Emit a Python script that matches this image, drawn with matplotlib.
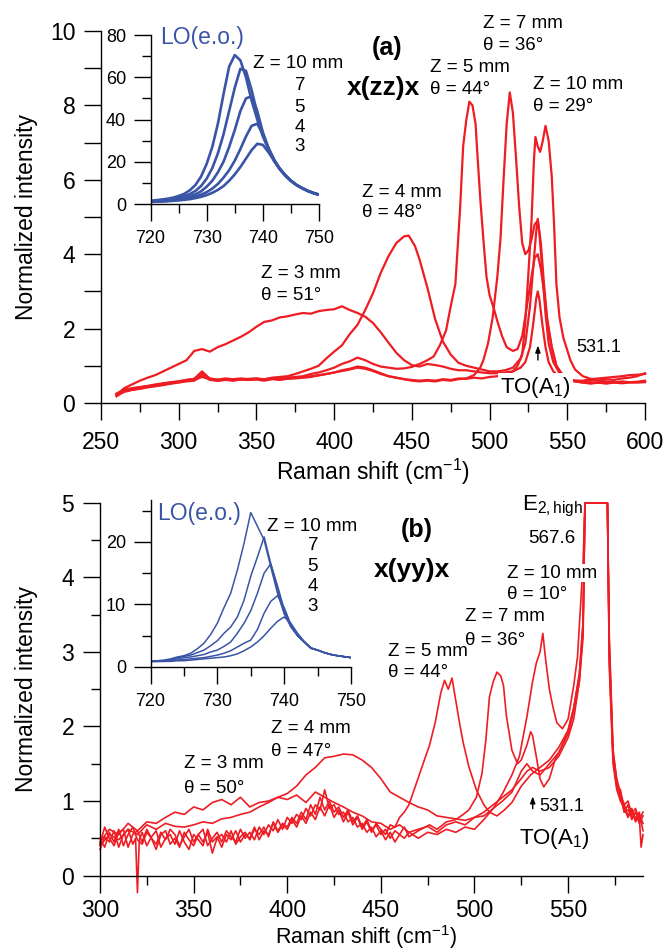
import numpy as np
import matplotlib
matplotlib.use("Agg")
import matplotlib.pyplot as plt
from matplotlib.ticker import FixedLocator, FuncFormatter

plt.rcParams['font.family'] = ['Liberation Sans', 'DejaVu Sans']
plt.rcParams['mathtext.fontset'] = 'custom'
plt.rcParams['mathtext.rm'] = 'Liberation Sans'
plt.rcParams['mathtext.it'] = 'Liberation Sans:italic'
plt.rcParams['mathtext.bf'] = 'Liberation Sans:bold'

RED = '#ee1d24'
BLUE = '#3a55a5'

# ---- (a) x(zz)x spectra -------------------------------------------------
zz3_x = [260, 265, 270, 275, 280, 285, 290, 295, 300, 305, 310, 315, 320, 325, 330, 335, 340, 345,
         350, 355, 360, 365, 370, 375, 380, 385, 390, 395, 400, 405, 410, 415, 420, 425, 430, 435,
         440, 445, 450, 455, 460, 465, 470, 475, 480, 485, 490, 495, 500, 505, 510, 515, 520, 523,
         526, 528, 530, 531, 532, 534, 536, 538, 541, 545, 550, 555, 560, 565, 570, 575, 580, 585,
         590, 595, 600]
zz3_y = [0.22, 0.40, 0.50, 0.60, 0.68, 0.75, 0.85, 0.95, 1.05, 1.15, 1.40, 1.45, 1.38, 1.50, 1.58,
         1.68, 1.78, 1.90, 2.05, 2.18, 2.22, 2.30, 2.33, 2.38, 2.42, 2.40, 2.47, 2.50, 2.52, 2.60,
         2.50, 2.42, 2.32, 2.15, 1.90, 1.62, 1.35, 1.15, 1.02, 0.98, 1.05, 1.02, 0.98, 0.92, 0.88,
         0.88, 0.85, 0.82, 0.80, 0.80, 0.82, 0.85, 0.95, 1.10, 1.50, 2.10, 2.80, 3.00, 2.80, 2.10,
         1.50, 1.10, 0.85, 0.70, 0.62, 0.58, 0.55, 0.56, 0.54, 0.56, 0.55, 0.58, 0.56, 0.57, 0.60]

zz4_x = [260, 265, 270, 275, 280, 285, 290, 295, 300, 305, 310, 315, 320, 325, 330, 335, 340, 345,
         350, 355, 360, 365, 370, 375, 380, 385, 390, 395, 400, 405, 410, 415, 420, 425, 430, 435,
         440, 445, 448, 452, 455, 460, 465, 470, 475, 480, 485, 490, 495, 500, 505, 510, 515, 520,
         523, 526, 528, 530, 531, 532, 534, 536, 538, 541, 545, 550, 555, 560, 565, 570, 575, 580,
         585, 590, 595, 600]
zz4_y = [0.25, 0.35, 0.38, 0.42, 0.45, 0.48, 0.52, 0.55, 0.58, 0.62, 0.65, 0.85, 0.65, 0.62, 0.62,
         0.64, 0.63, 0.65, 0.66, 0.64, 0.68, 0.70, 0.72, 0.78, 0.85, 0.92, 1.00, 1.20, 1.38, 1.55,
         1.85, 2.10, 2.50, 2.95, 3.50, 3.95, 4.30, 4.48, 4.50, 4.22, 3.85, 3.10, 2.25, 1.65, 1.30,
         1.08, 1.00, 0.95, 0.90, 0.85, 0.85, 0.88, 0.95, 1.20, 1.60, 2.60, 3.60, 4.60, 4.95, 4.60,
         3.50, 2.40, 1.60, 1.10, 0.80, 0.65, 0.58, 0.55, 0.52, 0.55, 0.52, 0.55, 0.53, 0.55, 0.56,
         0.58]

zz5_x = [260, 265, 270, 275, 280, 285, 290, 295, 300, 305, 310, 315, 320, 325, 330, 335, 340, 345,
         350, 355, 360, 365, 370, 375, 380, 385, 390, 395, 400, 405, 410, 415, 420, 425, 430, 435,
         440, 445, 450, 455, 460, 464, 468, 472, 475, 478, 481, 483, 485, 487, 489, 491, 492, 494,
         496, 498, 500, 503, 505, 508, 511, 515, 518, 521, 524, 527, 529, 531, 533, 535, 537, 540,
         543, 547, 550, 555, 560, 565, 570, 575, 580, 585, 590, 595, 600]
zz5_y = [0.20, 0.30, 0.35, 0.38, 0.42, 0.45, 0.48, 0.52, 0.55, 0.58, 0.60, 0.75, 0.62, 0.60, 0.62,
         0.60, 0.63, 0.62, 0.65, 0.62, 0.66, 0.65, 0.68, 0.70, 0.72, 0.78, 0.82, 0.88, 0.95, 1.05,
         1.12, 1.22, 1.15, 1.05, 0.98, 0.95, 0.92, 0.93, 0.97, 1.05, 1.15, 1.25, 1.55, 1.95, 2.60,
         3.20, 5.20, 6.90, 7.60, 8.10, 8.00, 7.50, 6.80, 5.50, 4.40, 3.40, 2.90, 2.50, 2.20, 1.80,
         1.50, 1.40, 1.45, 1.80, 2.60, 3.40, 3.90, 4.00, 3.60, 3.00, 2.20, 1.50, 1.00, 0.75, 0.65,
         0.60, 0.60, 0.64, 0.66, 0.68, 0.70, 0.72, 0.75, 0.76, 0.78]

zz7_x = [260, 265, 270, 275, 280, 285, 290, 295, 300, 305, 310, 315, 320, 325, 330, 335, 340, 345,
         350, 355, 360, 365, 370, 375, 380, 385, 390, 395, 400, 405, 410, 415, 420, 425, 430, 435,
         440, 445, 450, 455, 460, 465, 470, 475, 480, 485, 490, 494, 496, 499, 502, 505, 507, 509,
         511, 513, 515, 517, 519, 521, 523, 525, 527, 529, 531, 533, 535, 537, 540, 543, 547, 550,
         555, 560, 565, 570, 575, 580, 585, 590, 595, 600]
zz7_y = [0.18, 0.32, 0.36, 0.40, 0.44, 0.46, 0.50, 0.53, 0.56, 0.60, 0.62, 0.70, 0.64, 0.60, 0.63,
         0.61, 0.64, 0.62, 0.63, 0.60, 0.64, 0.62, 0.65, 0.66, 0.68, 0.70, 0.74, 0.78, 0.82, 0.88,
         0.92, 0.98, 0.95, 0.88, 0.80, 0.72, 0.68, 0.64, 0.60, 0.58, 0.60, 0.58, 0.62, 0.60, 0.64,
         0.66, 0.75, 0.95, 1.15, 1.60, 2.30, 3.40, 4.40, 6.00, 7.50, 8.35, 7.80, 6.60, 5.30, 4.30,
         4.00, 4.10, 4.40, 4.80, 4.90, 4.30, 3.20, 2.30, 1.50, 1.00, 0.75, 0.65, 0.60, 0.58, 0.62,
         0.60, 0.64, 0.62, 0.66, 0.68, 0.72, 0.80]

zz10_x = [260, 265, 270, 275, 280, 285, 290, 295, 300, 305, 310, 315, 320, 325, 330, 335, 340, 345,
          350, 355, 360, 365, 370, 375, 380, 385, 390, 395, 400, 405, 410, 415, 420, 425, 430, 435,
          440, 445, 450, 455, 460, 465, 470, 475, 480, 485, 490, 495, 500, 505, 510, 515, 518, 521,
          523, 525, 527, 528.5, 529.5, 531, 532.5, 534, 536, 538, 540, 541.5, 543, 545, 547.5, 552,
          555, 560, 565, 570, 575, 580, 585, 590, 595, 600]
zz10_y = [0.25, 0.36, 0.40, 0.43, 0.46, 0.50, 0.53, 0.56, 0.58, 0.62, 0.64, 0.80, 0.66, 0.63, 0.66,
          0.64, 0.66, 0.64, 0.65, 0.63, 0.66, 0.64, 0.66, 0.68, 0.70, 0.72, 0.75, 0.78, 0.82, 0.86,
          0.90, 0.95, 0.92, 0.86, 0.78, 0.72, 0.68, 0.64, 0.62, 0.60, 0.62, 0.60, 0.64, 0.62, 0.66,
          0.65, 0.68, 0.66, 0.70, 0.72, 0.76, 0.85, 1.00, 1.30, 2.20, 3.50, 4.90, 6.50, 7.15, 6.90,
          6.75, 7.00, 7.45, 7.05, 6.10, 4.80, 3.20, 2.30, 1.75, 1.15, 0.90, 0.72, 0.65, 0.60, 0.58,
          0.56, 0.55, 0.56, 0.55, 0.56]

# LO(e.o.) band, inset of (a)
lo_x = [720, 721, 722, 723, 724, 725, 726, 727, 728, 729, 730, 731, 732, 733, 734, 735, 736, 737,
        738, 739, 740, 741, 742, 743, 744, 745, 746, 747, 748, 749, 750]
lo_zz10 = [1.5, 1.8, 2.1, 2.5, 3.0, 3.8, 4.8, 6.5, 9.0, 13, 19, 27, 38, 52, 65, 70.5, 68, 60, 49,
           40, 32, 26, 20.5, 16.5, 13.5, 11, 9, 7.5, 6.2, 5.2, 4.4]
lo_zz7 = [1.3, 1.5, 1.8, 2.1, 2.5, 3.0, 3.7, 4.7, 6.2, 8.5, 12, 17, 24, 33, 44, 55, 64, 63, 54,
          43, 33, 26, 20.5, 16.5, 13.5, 11, 9, 7.5, 6.2, 5.2, 4.4]
lo_zz5 = [1.2, 1.3, 1.5, 1.7, 2.0, 2.4, 2.9, 3.6, 4.6, 6.0, 8.2, 11, 15, 20, 27, 35, 44, 50, 51,
          44, 34, 26.5, 21, 16.7, 13.6, 11, 9, 7.5, 6.2, 5.2, 4.4]
lo_zz4 = [1.1, 1.2, 1.3, 1.5, 1.7, 2.0, 2.4, 2.9, 3.5, 4.4, 5.6, 7.3, 9.5, 12.5, 16, 20.5, 26, 32,
          37, 38, 33, 26.5, 21, 16.8, 13.6, 11, 9, 7.5, 6.2, 5.2, 4.4]
lo_zz3 = [1.0, 1.1, 1.2, 1.3, 1.5, 1.7, 2.0, 2.3, 2.8, 3.4, 4.2, 5.3, 6.7, 8.5, 11, 14, 17.5, 21.5,
          25.5, 28.5, 28, 24.5, 20.5, 16.8, 13.6, 11, 9, 7.5, 6.2, 5.2, 4.4]

# ---- (b) x(yy)x spectra -------------------------------------------------
yy3_x = [300, 305, 310, 315, 320, 325, 330, 335, 340, 345, 350, 355, 360, 365, 370, 375, 380, 385,
         390, 395, 400, 405, 410, 415, 420, 425, 430, 435, 440, 445, 450, 455, 460, 465, 470, 475,
         480, 485, 490, 495, 500, 505, 510, 515, 520, 525, 528, 531, 535, 540, 545, 550, 553, 556,
         558, 559, 571, 572, 574, 576, 578, 580, 582, 584, 586, 588, 590]
yy3_y = [0.45, 0.62, 0.55, 0.70, 0.60, 0.72, 0.70, 0.78, 0.85, 0.82, 0.92, 0.88, 0.98, 1.02, 0.95,
         1.05, 0.92, 0.98, 1.00, 1.05, 1.02, 1.08, 0.98, 1.12, 1.05, 0.98, 0.92, 0.85, 0.80, 0.72,
         0.70, 0.62, 0.68, 0.58, 0.62, 0.66, 0.58, 0.68, 0.72, 0.68, 0.78, 0.85, 0.95, 1.05, 1.15,
         1.30, 1.40, 1.45, 1.40, 1.45, 1.60, 1.85, 2.10, 2.60, 3.20, 5.00, 5.00, 3.00, 1.60, 1.20,
         1.05, 0.85, 0.95, 0.75, 0.85, 0.70, 0.80]

yy4_x = [300, 305, 310, 315, 320, 325, 330, 335, 340, 345, 350, 355, 360, 365, 370, 375, 380, 385,
         390, 395, 400, 405, 410, 415, 420, 425, 430, 435, 440, 445, 450, 455, 460, 465, 470, 475,
         480, 485, 490, 495, 500, 505, 510, 515, 520, 525, 528, 531, 535, 540, 545, 550, 553, 556,
         558, 559, 571, 572, 574, 576, 578, 580, 582, 584, 586, 588, 590]
yy4_y = [0.40, 0.55, 0.48, 0.62, 0.55, 0.68, 0.62, 0.70, 0.66, 0.65, 0.68, 0.72, 0.70, 0.76, 0.78,
         0.82, 0.85, 0.92, 0.98, 1.05, 1.10, 1.20, 1.35, 1.45, 1.58, 1.60, 1.63, 1.62, 1.55, 1.45,
         1.30, 1.12, 1.05, 0.98, 0.92, 0.88, 0.80, 0.78, 0.76, 0.74, 0.78, 0.80, 0.90, 1.00, 1.12,
         1.40, 1.50, 1.40, 1.35, 1.50, 1.65, 1.90, 2.20, 2.60, 3.30, 5.00, 5.00, 3.20, 1.70, 1.25,
         1.00, 0.95, 0.80, 0.90, 0.75, 0.85, 0.60]

yy5_x = [300, 302.5, 305, 307.5, 310, 312.5, 315, 317.5, 319, 320, 321, 322.5, 325, 327.5, 330,
         332.5, 335, 337.5, 340, 342.5, 345, 347.5, 350, 352.5, 355, 357.5, 360, 362.5, 365, 367.5,
         370, 372.5, 375, 377.5, 380, 382.5, 385, 387.5, 390, 392.5, 395, 397.5, 400, 402.5, 405,
         407.5, 410, 412.5, 415, 417.5, 420, 422.5, 425, 427.5, 430, 432.5, 435, 437.5, 440, 442.5,
         445, 447.5, 450, 452.5, 455, 457.5, 460, 462.5, 465,
         469, 472, 476, 479, 482, 484, 486, 488, 490, 492, 494, 497, 501, 505, 508, 512, 516, 520,
         525, 530, 535, 540, 545, 550, 553, 556, 558, 559, 571, 572, 574, 576, 578, 580, 582, 584,
         586, 588, 590]
yy5_y = [0.35, 0.52, 0.45, 0.60, 0.38, 0.55, 0.62, 0.42, 0.50, -0.23, 0.48, 0.58, 0.40, 0.52, 0.60,
         0.38, 0.50, 0.55, 0.42, 0.60, 0.45, 0.35, 0.55, 0.48, 0.40, 0.62, 0.45, 0.52, 0.38, 0.55,
         0.48, 0.60, 0.45, 0.55, 0.50, 0.65, 0.48, 0.60, 0.55, 0.70, 0.58, 0.68, 0.62, 0.75, 0.65,
         0.80, 0.70, 0.85, 0.75, 0.92, 0.80, 0.95, 0.78, 0.88, 0.72, 0.85, 0.68, 0.78, 0.62, 0.72,
         0.58, 0.70, 0.62, 0.55, 0.68, 0.65, 0.78, 0.85, 0.95,
         1.24, 1.46, 1.75, 2.05, 2.45, 2.62, 2.50, 2.65, 2.35, 2.05, 1.78, 1.46, 1.15, 0.95, 0.85,
         0.80, 0.88, 0.98, 1.20, 1.35, 1.45, 1.55, 1.72, 1.95, 2.25, 2.70, 3.40, 5.00, 5.00, 2.80,
         1.50, 1.15, 1.00, 0.90, 0.78, 0.88, 0.72, 0.82, 0.70]

yy7_x = [300, 302.5, 305, 307.5, 310, 312.5, 315, 317.5, 320, 322.5, 325, 327.5, 330, 332.5, 335,
         337.5, 340, 342.5, 345, 347.5, 350, 352.5, 355, 357.5, 360, 362.5, 365, 367.5, 370, 372.5,
         375, 377.5, 380, 382.5, 385, 387.5, 390, 392.5, 395, 397.5, 400, 402.5, 405, 407.5, 410,
         412.5, 415, 417.5, 420, 422.5, 425, 427.5, 430, 432.5, 435, 437.5, 440, 442.5, 445, 447.5,
         450, 452.5, 455, 457.5, 460, 462.5, 465, 470,
         476, 480, 485, 490, 494, 497, 501, 504, 506, 508, 510, 512, 514, 515.5, 517, 520, 523, 525,
         528, 530, 531, 533, 535, 537, 540, 543, 546, 550, 553, 556, 558, 559, 571, 572, 574, 576,
         578, 580, 582, 584, 586, 588, 590]
yy7_y = [0.50, 0.38, 0.58, 0.45, 0.62, 0.40, 0.55, 0.65, 0.48, 0.42, 0.58, 0.50, 0.35, 0.55, 0.60,
         0.42, 0.50, 0.38, 0.58, 0.48, 0.40, 0.55, 0.45, 0.58, 0.30, 0.50, 0.55, 0.45, 0.60, 0.42,
         0.52, 0.58, 0.48, 0.62, 0.55, 0.65, 0.52, 0.72, 0.60, 0.70, 0.65, 0.78, 0.70, 0.85, 0.75,
         0.95, 0.82, 1.05, 0.88, 1.00, 0.85, 0.92, 0.78, 0.88, 0.72, 0.80, 0.65, 0.75, 0.60, 0.68,
         0.55, 0.62, 0.50, 0.60, 0.55, 0.65, 0.52, 0.60,
         0.68, 0.62, 0.72, 0.75, 0.82, 0.88, 1.05, 1.37, 1.80, 2.40, 2.60, 2.73, 2.68, 2.55, 2.15,
         1.68, 1.50, 1.55, 1.75, 1.93, 1.88, 1.60, 1.30, 1.19, 1.30, 1.55, 1.70, 1.95, 2.25, 2.70,
         3.40, 5.00, 5.00, 3.10, 1.65, 1.30, 1.10, 0.95, 1.00, 0.82, 0.90, 0.75, 0.85]

yy10_x = [300, 302.5, 305, 307.5, 310, 312.5, 315, 317.5, 320, 322.5, 325, 327.5, 330, 332.5, 335,
          337.5, 340, 342.5, 345, 347.5, 350, 352.5, 355, 357.5, 360, 362.5, 365, 367.5, 370, 372.5,
          375, 377.5, 380, 382.5, 385, 387.5, 390, 392.5, 395, 397.5, 400, 402.5, 405, 407.5, 410,
          412.5, 415, 417.5, 420, 422.5, 425, 427.5, 430, 432.5, 435, 437.5, 440, 442.5, 445, 447.5,
          450, 452.5, 455, 457.5, 460, 462.5, 465, 470, 475,
          480, 485, 490, 495, 500, 505, 510, 515, 520, 524, 528, 531, 533, 535, 536.5, 538, 540,
          542, 544, 547, 550, 553, 555, 556.5, 558, 559, 571, 572, 574, 576, 578, 580, 582, 584,
          586, 588, 589, 590]
yy10_y = [0.42, 0.65, 0.50, 0.40, 0.58, 0.62, 0.38, 0.55, 0.60, 0.45, 0.62, 0.50, 0.42, 0.58, 0.48,
          0.62, 0.55, 0.40, 0.52, 0.62, 0.45, 0.55, 0.62, 0.40, 0.50, 0.58, 0.45, 0.60, 0.52, 0.45,
          0.62, 0.50, 0.58, 0.48, 0.65, 0.55, 0.68, 0.60, 0.75, 0.62, 0.78, 0.70, 0.82, 0.75, 0.90,
          0.80, 0.95, 0.88, 1.15, 0.90, 0.95, 0.82, 0.85, 0.72, 0.78, 0.65, 0.70, 0.58, 0.65, 0.52,
          0.60, 0.48, 0.58, 0.45, 0.55, 0.50, 0.58, 0.50, 0.58,
          0.55, 0.62, 0.58, 0.65, 0.62, 0.75, 0.90, 1.10, 1.35, 1.60, 2.13, 2.60, 2.85, 3.00, 3.25,
          2.90, 2.50, 2.25, 2.05, 1.97, 2.10, 2.55, 2.93, 3.56, 4.20, 5.00, 5.00, 2.90, 1.55, 1.20,
          1.15, 0.85, 0.88, 0.80, 0.78, 0.80, 0.38, 0.55]

# LO(e.o.) band, inset of (b)
lo_yy10 = [0.9, 1.0, 1.1, 1.3, 1.6, 1.8, 2.2, 2.9, 3.8, 5.2, 7.0, 9.5, 11.8, 15.5, 19.8, 24.7, 22.5,
           20.3, 16, 11.8, 8.5, 6.4, 5.0, 4.0, 3.0, 2.7, 2.3, 2.0, 1.8, 1.65, 1.5]
lo_yy7 = [0.9, 1.0, 1.0, 1.2, 1.5, 1.7, 1.9, 2.3, 2.7, 3.4, 4.2, 5.4, 6.4, 8.0, 10.7, 14.5, 17.6,
          20.8, 16.5, 12.5, 8.8, 6.5, 5.0, 4.0, 3.0, 2.7, 2.3, 2.0, 1.8, 1.65, 1.5]
lo_yy5 = [0.9, 0.9, 1.0, 1.1, 1.3, 1.5, 1.6, 1.8, 2.0, 2.4, 2.7, 3.3, 4.0, 5.4, 7.0, 9.0, 11.8,
          15.0, 16.5, 13.0, 9.2, 6.6, 5.0, 4.0, 3.0, 2.7, 2.3, 2.0, 1.8, 1.65, 1.5]
lo_yy4 = [0.9, 0.9, 0.9, 1.0, 1.1, 1.2, 1.3, 1.4, 1.5, 1.7, 1.9, 2.2, 2.6, 3.2, 3.8, 4.3, 6.0, 8.6,
          10.5, 11.4, 9.5, 6.8, 5.1, 4.0, 3.0, 2.7, 2.3, 2.0, 1.8, 1.65, 1.5]
lo_yy3 = [0.85, 0.9, 0.9, 0.9, 1.0, 1.0, 1.1, 1.2, 1.3, 1.4, 1.5, 1.6, 1.8, 2.1, 2.6, 3.2, 4.0, 5.0,
          6.2, 7.3, 8.0, 7.0, 5.4, 4.1, 3.1, 2.7, 2.3, 2.0, 1.8, 1.65, 1.5]

zz_series = [(zz3_x, zz3_y), (zz4_x, zz4_y), (zz5_x, zz5_y), (zz7_x, zz7_y), (zz10_x, zz10_y)]
yy_series = [(yy3_x, yy3_y), (yy4_x, yy4_y), (yy5_x, yy5_y), (yy7_x, yy7_y), (yy10_x, yy10_y)]
lo_zz = [lo_zz10, lo_zz7, lo_zz5, lo_zz4, lo_zz3]
lo_yy = [lo_yy10, lo_yy7, lo_yy5, lo_yy4, lo_yy3]


def style_axes(ax, major_len=12.5, minor_len=6.5, size=16.5, xpad=8, ypad=6):
    for s in ('top', 'right'):
        ax.spines[s].set_visible(False)
    for s in ('left', 'bottom'):
        ax.spines[s].set_linewidth(1.0)
    ax.tick_params(which='both', direction='out', width=1.0, labelsize=size)
    ax.tick_params(which='major', length=major_len)
    ax.tick_params(which='minor', length=minor_len)
    ax.tick_params(axis='x', pad=xpad)
    ax.tick_params(axis='y', pad=ypad)
    ax.patch.set_alpha(0)


def two_lines(ax, x, y1, y2, l1, l2, size=13.5, box=False):
    kw = dict(fontsize=size, ha='left', va='center', zorder=5)
    if box:
        kw['bbox'] = dict(facecolor='white', edgecolor='none', pad=0.5)
    ax.text(x, y1, l1, **kw)
    ax.text(x, y2, l2, **kw)


fig = plt.figure(figsize=(6.63, 9.52), dpi=100)

# ---------------- panel (a) ----------------
ax1 = fig.add_axes([0.15234, 0.57668, 0.82051, 0.39076])
for xs, ys in zz_series:
    ax1.plot(xs, ys, color=RED, lw=1.6, clip_on=False)
ax1.set_xlim(250, 600)
ax1.set_ylim(0, 10)
style_axes(ax1)
ax1.yaxis.set_major_locator(FixedLocator(range(0, 11)))
ax1.yaxis.set_major_formatter(FuncFormatter(lambda v, p: f"{int(v)}" if int(v) % 2 == 0 else ""))
ax1.xaxis.set_major_locator(FixedLocator(range(250, 601, 50)))
ax1.xaxis.set_minor_locator(FixedLocator(range(275, 600, 50)))
ax1.set_xlabel("Raman shift (cm$^{-1}$)", fontsize=16.5)
ax1.set_ylabel("Normalized intensity", fontsize=16.5)
ax1.xaxis.set_label_coords(0.5, -0.145)
ax1.yaxis.set_label_coords(-0.115, 0.5)

ax1.text(434, 9.54, "(a)", fontsize=18, fontweight='bold', ha='center', va='center')
ax1.text(432, 8.47, "x(zz)x", fontsize=19, fontweight='bold', ha='center', va='center')
two_lines(ax1, 495.8, 10.2, 9.6, "Z = 7 mm", "θ = 36°")
two_lines(ax1, 461.7, 9.03, 8.44, "Z = 5 mm", "θ = 44°")
two_lines(ax1, 528, 8.55, 7.96, "Z = 10 mm", "θ = 29°")
two_lines(ax1, 418, 5.67, 5.11, "Z = 4 mm", "θ = 48°")
two_lines(ax1, 353, 3.49, 2.90, "Z = 3 mm", "θ = 51°")
ax1.text(555.7, 1.48, "531.1", fontsize=13, ha='left', va='center')
ax1.annotate("", xy=(531.1, 1.62), xytext=(531.1, 1.08),
             arrowprops=dict(arrowstyle='-|>,head_length=0.4,head_width=0.15', color='black', lw=1.0))
ax1.text(507, 0.42, "TO(A$_1$)", fontsize=16, ha='left', va='center', zorder=6,
         bbox=dict(facecolor='white', edgecolor='none', pad=1.5))

# inset (a)
in1 = fig.add_axes([0.227, 0.78571, 0.25415, 0.17752])
for ys in lo_zz:
    in1.plot(lo_x, ys, color=BLUE, lw=1.9)
in1.set_xlim(720, 750)
in1.set_ylim(0, 80)
style_axes(in1, major_len=12.5, minor_len=6.5, size=13, xpad=6, ypad=5)
in1.yaxis.set_major_locator(FixedLocator(range(0, 81, 20)))
in1.yaxis.set_minor_locator(FixedLocator(range(10, 80, 20)))
in1.xaxis.set_major_locator(FixedLocator(range(720, 751, 10)))
in1.xaxis.set_minor_locator(FixedLocator(range(725, 750, 10)))
in1.text(721.7, 78.6, "LO(e.o.)", color=BLUE, fontsize=16.5, ha='left', va='center')
in1.text(738.2, 66.7, "Z = 10 mm", fontsize=13.5, ha='left', va='center', clip_on=False)
for lab, yy in zip(["7", "5", "4", "3"], [56.3, 45.9, 36.4, 27.0]):
    in1.text(746.6, yy, lab, fontsize=13.5, ha='center', va='center', clip_on=False)

# ---------------- panel (b) ----------------
ax2 = fig.add_axes([0.15083, 0.05688, 0.819, 0.41476])
for xs, ys in yy_series:
    ax2.plot(xs, ys, color=RED, lw=1.2, clip_on=False)
ax2.set_xlim(300, 590)
ax2.set_ylim(-0.3, 5)
style_axes(ax2, xpad=4.5)
ax2.spines['bottom'].set_position(('data', 0))
ax2.spines['left'].set_bounds(0, 5)
ax2.yaxis.set_major_locator(FixedLocator(range(0, 6)))
ax2.yaxis.set_minor_locator(FixedLocator([0.5, 1.5, 2.5, 3.5, 4.5]))
ax2.xaxis.set_major_locator(FixedLocator(range(300, 551, 50)))
ax2.xaxis.set_minor_locator(FixedLocator(range(325, 590, 50)))
ax2.set_xlabel("Raman shift (cm$^{-1}$)", fontsize=15.5)
ax2.set_ylabel("Normalized intensity", fontsize=16.5)
ax2.xaxis.set_label_coords(0.49, -0.064)
ax2.yaxis.set_label_coords(-0.115, 0.5 + 0.3 / 5.3 / 2)

ax2.text(525.4, 4.95, "E$_{2,\\mathrm{high}}$", fontsize=16, ha='left', va='center')
ax2.text(528.6, 4.52, "567.6", fontsize=13.5, ha='left', va='center')
ax2.text(469.3, 4.64, "(b)", fontsize=18, fontweight='bold', ha='center', va='center')
ax2.text(466.7, 4.10, "x(yy)x", fontsize=19, fontweight='bold', ha='center', va='center')
two_lines(ax2, 517.4, 4.06, 3.77, "Z = 10 mm", "θ = 10°", box=True)
two_lines(ax2, 495.0, 3.47, 3.16, "Z = 7 mm", "θ = 36°")
two_lines(ax2, 453.8, 3.00, 2.72, "Z = 5 mm", "θ = 44°")
two_lines(ax2, 391.3, 1.97, 1.66, "Z = 4 mm", "θ = 47°")
two_lines(ax2, 344.9, 1.51, 1.17, "Z = 3 mm", "θ = 50°")
ax2.annotate("", xy=(531.1, 1.10), xytext=(531.1, 0.86),
             arrowprops=dict(arrowstyle='-|>,head_length=0.4,head_width=0.15', color='black', lw=1.0))
ax2.text(534.5, 0.92, "531.1", fontsize=13, ha='left', va='center')
ax2.text(523.8, 0.50, "TO(A$_1$)", fontsize=16, ha='left', va='center')

# inset (b)
in2 = fig.add_axes([0.227, 0.29937, 0.30241, 0.17542])
for ys in lo_yy:
    in2.plot(lo_x, ys, color=BLUE, lw=1.1)
in2.set_xlim(720, 750)
in2.set_ylim(0, 26.7)
style_axes(in2, major_len=12.5, minor_len=6.5, size=13, xpad=6, ypad=5)
in2.yaxis.set_major_locator(FixedLocator([0, 10, 20]))
in2.yaxis.set_minor_locator(FixedLocator([5, 15, 25]))
in2.xaxis.set_major_locator(FixedLocator(range(720, 751, 10)))
in2.xaxis.set_minor_locator(FixedLocator(range(725, 750, 10)))
in2.text(721.0, 24.6, "LO(e.o.)", color=BLUE, fontsize=16.5, ha='left', va='center')
in2.text(737.4, 22.4, "Z = 10 mm", fontsize=13.5, ha='left', va='center', clip_on=False)
for lab, yy in zip(["7", "5", "4", "3"], [19.4, 16.0, 12.8, 9.6]):
    in2.text(744.3, yy, lab, fontsize=13.5, ha='center', va='center', clip_on=False)

fig.savefig("out.png", dpi=100)
